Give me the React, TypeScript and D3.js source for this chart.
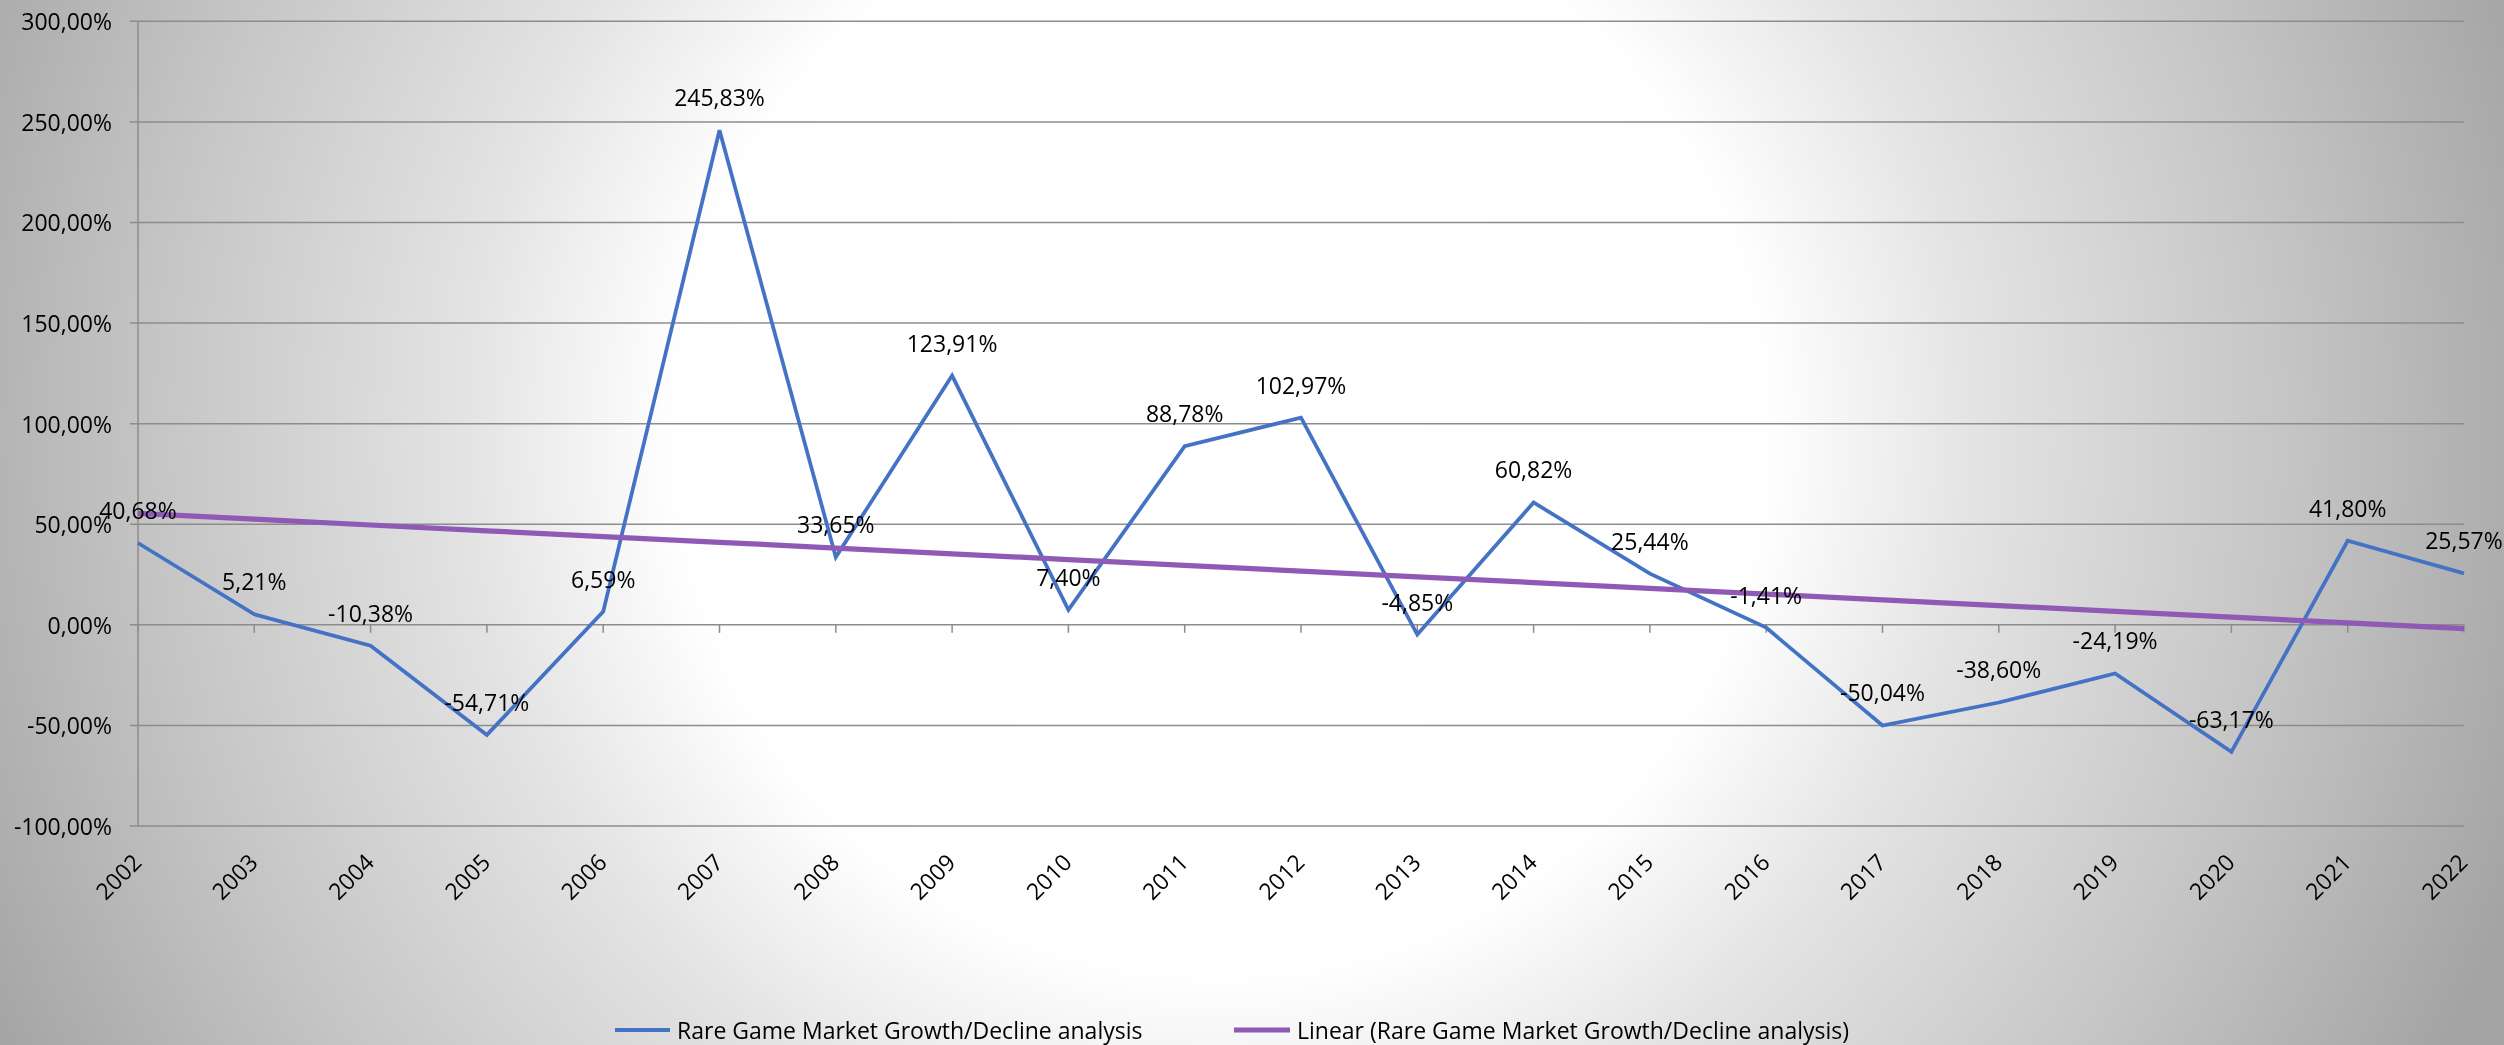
import React from "react";
import { scaleLinear, scalePoint, line, range } from "d3";

// chart data
const years = ["2002", "2003", "2004", "2005", "2006", "2007", "2008", "2009", "2010", "2011", "2012",
  "2013", "2014", "2015", "2016", "2017", "2018", "2019", "2020", "2021", "2022"];
const growth = [40.68, 5.21, -10.38, -54.71, 6.59, 245.83, 33.65, 123.91, 7.40, 88.78, 102.97,
  -4.85, 60.82, 25.44, -1.41, -50.04, -38.60, -24.19, -63.17, 41.80, 25.57];
const yTicks = [-100, -50, 0, 50, 100, 150, 200, 250, 300];
const seriesName = "Rare Game Market Growth/Decline analysis";
const trendName = "Linear (Rare Game Market Growth/Decline analysis)";

const W = 2504;
const H = 1045;
const FONT = "'Open Sans', sans-serif";
const BLUE = "#4472C4";
const PURPLE = "#8E5AB5";
const GRID = "#8c8c8c";

const fmt = (v: number) => v.toFixed(2).replace(".", ",") + "%";

// least squares fit, like Excel's linear trendline
function linearFit(vals: number[]) {
  const n = vals.length;
  const xs = range(n);
  const mx = (n - 1) / 2;
  const my = vals.reduce((a, b) => a + b, 0) / n;
  let num = 0, den = 0;
  xs.forEach((x, i) => {
    num += (x - mx) * (vals[i] - my);
    den += (x - mx) * (x - mx);
  });
  const slope = num / den;
  return xs.map(x => my + slope * (x - mx));
}

const App = () => {
  const left = 138, right = 2464, top = 21.3, bottom = 826;

  const x = scalePoint<string>().domain(years).range([left, right]);
  const y = scaleLinear().domain([-100, 300]).range([bottom, top]);

  const trend = linearFit(growth);
  const pts = years.map((yr, i) => ({ yr, v: growth[i], t: trend[i] }));

  const valueLine = line<any>().x(d => x(d.yr)!).y(d => y(d.v));
  const trendLine = line<any>().x(d => x(d.yr)!).y(d => y(d.t));

  return (
    <svg width={W} height={H} style={{ position: "fixed", left: 0, top: 0 }} fontFamily={FONT}>
      <defs>
        <radialGradient id="bg" gradientUnits="userSpaceOnUse" cx={1220} cy={430} r={1380}>
          <stop offset="0" stopColor="#ffffff" />
          <stop offset="0.4" stopColor="#fefefe" />
          <stop offset="0.55" stopColor="#e3e3e3" />
          <stop offset="0.78" stopColor="#c4c4c4" />
          <stop offset="1" stopColor="#a3a3a3" />
        </radialGradient>
      </defs>
      <rect x={0} y={0} width={W} height={H} fill="url(#bg)" />

      {/* gridlines + y axis */}
      <g>
        {yTicks.map(t => (
          <g key={t}>
            <line x1={left - 8} x2={right} y1={y(t)} y2={y(t)} stroke={GRID} strokeWidth={1.5} />
            <text x={112} y={y(t)} textAnchor="end" dominantBaseline="central" fontSize={23} fill="#000">
              {fmt(t)}
            </text>
          </g>
        ))}
        <line x1={left} x2={left} y1={top} y2={bottom} stroke={GRID} strokeWidth={1.5} />
      </g>

      {/* x ticks on the zero line, labels at the bottom */}
      <g>
        {years.map(yr => (
          <g key={yr}>
            <line x1={x(yr)} x2={x(yr)} y1={y(0)} y2={y(0) + 8} stroke={GRID} strokeWidth={1.5} />
            <text transform={`translate(${x(yr)! + 5},864) rotate(-45)`} textAnchor="end" fontSize={23} fill="#000">
              {yr}
            </text>
          </g>
        ))}
      </g>

      <path d={valueLine(pts) || ""} fill="none" stroke={BLUE} strokeWidth={3.75} strokeLinejoin="miter" />
      <path d={trendLine(pts) || ""} fill="none" stroke={PURPLE} strokeWidth={5.25} />

      {/* data labels above points */}
      <g>
        {pts.map(d => (
          <text key={d.yr} x={x(d.yr)} y={y(d.v) - 33} textAnchor="middle" dominantBaseline="central" fontSize={23} fill="#000">
            {fmt(d.v)}
          </text>
        ))}
      </g>

      {/* legend */}
      <g fontSize={23}>
        <line x1={615} x2={670} y1={1030} y2={1030} stroke={BLUE} strokeWidth={4} />
        <text x={677} y={1030} dominantBaseline="central">{seriesName}</text>
        <line x1={1234} x2={1290} y1={1030} y2={1030} stroke={PURPLE} strokeWidth={5} />
        <text x={1297} y={1030} dominantBaseline="central">{trendName}</text>
      </g>
    </svg>
  );
};

export default App;
